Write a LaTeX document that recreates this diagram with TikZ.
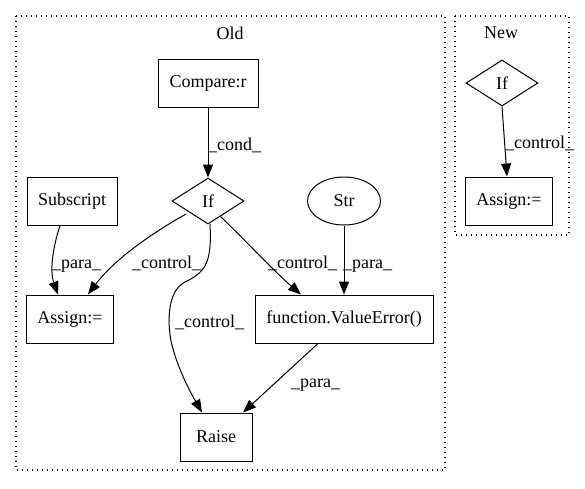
\documentclass[tikz,border=0pt]{standalone}
\usepackage{fontspec}
\setmainfont{Liberation Serif}
\usetikzlibrary{shapes.geometric,arrows.meta,calc}
\begin{document}
\begin{tikzpicture}[x=1pt,y=-1pt,
  font=\fontsize{18}{21}\selectfont,
  every node/.style={inner sep=0pt},
  box/.style={draw, line width=1pt, minimum height=48pt},
  cond/.style={draw, diamond, line width=1pt, minimum width=72pt, minimum height=46pt, aspect=1.565},
  oval/.style={draw, ellipse, line width=1pt, minimum width=73pt, minimum height=48pt},
  flow/.style={draw, line width=1pt, -{Triangle[length=13pt,width=10pt]}},
  elabel/.style={anchor=base west},
  cluster/.style={draw, line width=1.2pt, dash pattern=on 1.3pt off 3.7pt}]
\useasboundingbox (0,0) rectangle (585,488);

% clusters
\draw[cluster] (16,16) rectangle (445,470);
\node (oldt) at (230,33) {Old};
\draw[cluster] (455,16) rectangle (569,235);
\node (newt) at (501,33) {New};

% nodes of the old version
\node[box, minimum width=100pt] (cmp) at (208,83) {Compare:r};
\node[cond] (if) at (208,201) {If};
\node[box, minimum width=90pt] (sub) at (72,201) {Subscript};
\node[oval] (str) at (344,201) {Str};
\node[box, minimum width=87pt] (asg) at (70,319) {Assign:=};
\node[box, minimum width=178pt] (ve) at (344,319) {function.ValueError()};
\node[box, minimum width=72pt] (raise) at (216,437) {Raise};

% nodes of the new version
\node[cond] (nif) at (502,83) {If};
\node[box, minimum width=87pt] (nasg) at (509,201) {Assign:=};

% connectors, old version
\draw[flow] (cmp) -- (if);
\draw[flow] ([xshift=-12pt]sub.south) .. controls (52,250) and (50,272) .. ([xshift=-12pt]asg.north);
\draw[flow] (186,214) .. controls (140,240) and (110,265) .. ([xshift=18pt]asg.north);
\draw[flow] (210,224) .. controls (212,262) and (206,272) .. (185,282)
            .. controls (165,292) and (168,330) .. (172,345)
            .. controls (178,370) and (192,395) .. ([xshift=-14pt]raise.north);
\draw[flow] (220,216) .. controls (245,240) and (275,272) .. ([xshift=-43pt]ve.north);
\draw[flow] (str) -- (ve);
\draw[flow] ([xshift=-26pt]ve.south) -- ([xshift=27pt]raise.north);

% connectors, new version
\draw[flow] (nif.south) -- ([xshift=-2pt]nasg.north);

% connector labels
\node[elabel] (lcond) at (208,150) {\_cond\_};
\node[elabel] (lp1) at (52,268) {\_para\_};
\node[elabel] (lc1) at (132,268) {\_control\_};
\node[elabel] (lc2) at (268,268) {\_control\_};
\node[elabel] (lp2) at (343,268) {\_para\_};
\node[elabel] (lc3) at (175,327) {\_control\_};
\node[elabel] (lp3) at (291,387) {\_para\_};
\node[elabel] (lnc) at (505,148) {\_control\_};
\end{tikzpicture}
\end{document}
